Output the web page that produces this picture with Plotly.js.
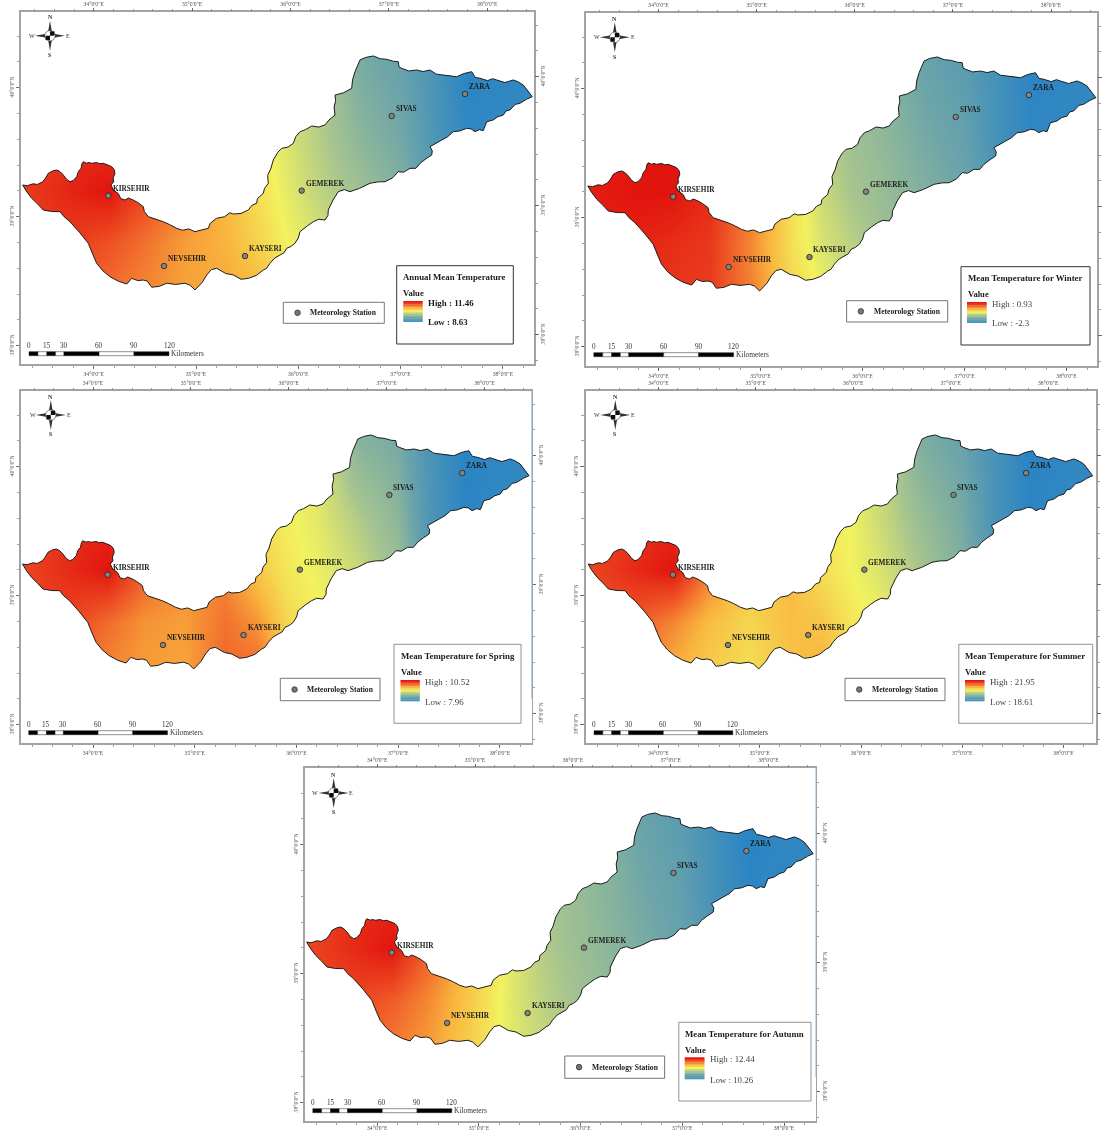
<!DOCTYPE html>
<html>
<head>
<meta charset="utf-8">
<script src="https://cdn.plot.ly/plotly-3.0.1.min.js"></script>
<style>
html,body{margin:0;padding:0;background:#fff}
#chart{width:1102px;height:1131px;filter:blur(0.3px)}
</style>
</head>
<body>
<div id="chart"></div>
<script>
// ---------- DATA ----------
const panelTitles = ["Annual Mean Temperature","Mean Temperature for Winter","Mean Temperature for Spring","Mean Temperature for Summer","Mean Temperature for Autumn"];
const highValues = ["11.46","0.93","10.52","21.95","12.44"];
const lowValues = ["8.63","-2.3","7.96","18.61","10.26"];

const stationNames = ["KIRSEHIR","NEVSEHIR","KAYSERI","GEMEREK","SIVAS","ZARA"];
const stationLon = [34.143,34.687,35.479,36.033,36.913,37.630];
const stationLat = [39.163,38.618,38.695,39.202,39.781,39.951];

const basinLon = [33.306,33.35,33.407,33.45,33.501,33.53,33.556,33.60,33.638,33.67,33.703,33.735,33.768,33.80,33.834,33.85,33.876,33.885,33.898,33.93,33.955,33.98,34.03,34.06,34.094,34.14,34.176,34.20,34.208,34.19,34.195,34.169,34.192,34.24,34.265,34.306,34.34,34.387,34.43,34.485,34.495,34.534,34.60,34.68,34.74,34.811,34.87,34.93,34.99,35.05,35.12,35.14,35.202,35.28,35.33,35.365,35.44,35.511,35.55,35.593,35.60,35.658,35.67,35.707,35.70,35.73,35.756,35.80,35.838,35.90,35.951,35.975,36.017,36.07,36.131,36.20,36.261,36.30,36.359,36.35,36.365,36.359,36.44,36.522,36.53,36.554,36.58,36.603,36.66,36.733,36.80,36.864,36.93,36.977,36.985,37.011,37.08,37.157,37.22,37.287,37.35,37.417,37.48,37.548,37.62,37.695,37.73,37.776,37.85,37.90,37.939,38.02,38.102,38.15,38.199,38.24,38.287,38.23,38.167,38.12,38.069,38.03,38.004,37.95,37.906,37.842,37.808,37.77,37.727,37.69,37.646,37.58,37.515,37.46,37.402,37.35,37.287,37.31,37.304,37.25,37.19,37.15,37.092,37.03,36.977,36.92,36.848,36.78,36.701,36.60,36.505,36.45,36.391,36.34,36.293,36.29,36.261,36.20,36.147,36.09,36.017,36.00,35.968,35.93,35.887,35.86,35.821,35.77,35.723,35.69,35.658,35.59,35.511,35.44,35.365,35.29,35.202,35.15,35.105,35.06,34.99,34.94,34.892,34.80,34.714,34.64,34.567,34.525,34.485,34.43,34.371,34.34,34.323,34.24,34.159,34.09,34.029,33.99,33.947,33.86,33.768,33.71,33.671,33.59,33.507,33.45,33.394,33.34,33.306];
const basinLat = [39.246,39.24,39.255,39.25,39.271,39.30,39.336,39.355,39.362,39.35,39.323,39.29,39.271,39.28,39.310,39.35,39.375,39.41,39.426,39.415,39.42,39.414,39.42,39.41,39.414,39.40,39.388,39.365,39.336,39.30,39.27,39.246,39.207,39.18,39.14,39.129,39.145,39.129,39.11,39.078,39.04,39.00,38.985,38.961,38.94,38.91,38.895,38.905,38.884,38.895,38.91,38.95,38.988,39.0,39.03,39.021,39.025,39.052,39.09,39.104,39.14,39.181,39.22,39.259,39.32,39.37,39.44,39.50,39.53,39.54,39.569,39.62,39.659,39.675,39.703,39.695,39.711,39.75,39.788,39.85,39.90,39.943,39.96,39.995,40.06,40.124,40.17,40.215,40.235,40.246,40.225,40.22,40.205,40.202,40.16,40.15,40.13,40.137,40.125,40.137,40.105,40.098,40.095,40.085,40.11,40.124,40.08,40.073,40.055,40.07,40.06,40.04,40.06,40.045,40.021,39.98,39.93,39.91,39.879,39.87,39.827,39.82,39.788,39.775,39.75,39.736,39.667,39.675,39.659,39.68,39.685,39.665,39.659,39.62,39.595,39.57,39.543,39.51,39.478,39.45,39.414,39.375,39.375,39.345,39.349,39.30,39.271,39.27,39.259,39.22,39.194,39.21,39.194,39.13,39.052,39.01,38.974,38.98,38.961,38.93,38.884,38.835,38.794,38.77,38.755,38.72,38.703,38.68,38.639,38.60,38.587,38.545,38.522,38.515,38.548,38.56,38.60,38.59,38.548,38.49,38.432,38.47,38.484,38.475,38.484,38.46,38.453,38.50,38.509,38.505,38.522,38.49,38.478,38.50,38.535,38.58,38.639,38.71,38.794,38.88,38.961,39.0,39.039,39.04,39.052,39.10,39.143,39.20,39.246];

// position of each grid node on the legend ramp (0 = Low, 1 = High)
const gridLon = [33.3,33.8,34.15,34.5,34.9,35.3,35.6,35.9,36.2,36.6,37.0,37.3,37.65,38.3];
const gridLat = [38.4,38.8,39.2,39.6,40.3];
const annualGrid = [
 [.85,.85,.82,.78,.73,.72,.70,.62,.55,.45,.40,.30,.10,.05],
 [.92,.92,.88,.82,.74,.70,.63,.55,.50,.42,.36,.25,.08,.05],
 [.92,.97,1.0,.90,.80,.68,.60,.52,.45,.38,.30,.18,.04,.04],
 [.90,.95,.95,.88,.75,.65,.58,.50,.43,.33,.26,.14,.02,.03],
 [.90,.95,.95,.88,.75,.65,.58,.50,.42,.27,.21,.12,.00,.03]];
const winterGrid = [
 [.95,.95,.93,.92,.80,.62,.55,.47,.40,.33,.28,.20,.06,.04],
 [.98,.97,.95,.93,.78,.60,.50,.44,.38,.32,.26,.17,.05,.04],
 [.98,1.0,1.0,.95,.82,.60,.47,.40,.36,.30,.24,.14,.03,.03],
 [.98,1.0,1.0,.95,.80,.58,.45,.38,.34,.27,.21,.10,.02,.03],
 [.98,1.0,1.0,.95,.80,.56,.43,.36,.32,.22,.17,.10,.00,.03]];
const springGrid = [
 [.83,.83,.78,.74,.73,.84,.84,.70,.62,.50,.42,.30,.08,.05],
 [.90,.90,.83,.76,.74,.82,.76,.62,.56,.48,.40,.25,.06,.04],
 [.90,.96,1.0,.86,.76,.78,.66,.58,.54,.47,.37,.18,.03,.03],
 [.90,.95,.96,.85,.75,.72,.62,.56,.52,.42,.33,.13,.01,.03],
 [.90,.95,.95,.85,.74,.70,.60,.54,.50,.30,.26,.12,.00,.03]];
const summerGrid = [
 [.80,.78,.70,.64,.60,.66,.72,.64,.56,.45,.38,.28,.08,.05],
 [.88,.86,.78,.68,.62,.68,.66,.58,.54,.43,.35,.23,.06,.04],
 [.90,.96,1.0,.80,.65,.68,.60,.55,.50,.40,.30,.16,.03,.03],
 [.90,.94,.95,.78,.65,.64,.58,.55,.47,.36,.27,.12,.01,.03],
 [.90,.94,.95,.78,.64,.62,.56,.53,.45,.28,.22,.11,.00,.03]];
const autumnGrid = [
 [.83,.83,.80,.74,.64,.52,.47,.42,.37,.31,.26,.18,.06,.04],
 [.90,.90,.86,.78,.65,.52,.45,.40,.36,.30,.25,.16,.05,.04],
 [.90,.96,1.0,.85,.68,.53,.43,.38,.34,.28,.22,.13,.03,.03],
 [.90,.95,.95,.83,.66,.52,.42,.37,.33,.26,.20,.10,.01,.03],
 [.90,.95,.95,.82,.66,.50,.41,.36,.32,.22,.17,.09,.00,.03]];
const grids = [annualGrid,winterGrid,springGrid,summerGrid,autumnGrid];

const lonTicks = [34,35,36,37,38];
const lonTickText = ["34°0'0\"E","35°0'0\"E","36°0'0\"E","37°0'0\"E","38°0'0\"E"];
const latTicks = [38,39,40];
const latTickText = ["38°0'0\"N","39°0'0\"N","40°0'0\"N"];
const scaleLabels = ["0","15","30","60","90","120"];

// ---------- STYLE & LAYOUT GEOMETRY (image pixels) ----------
const colorStops = [[0,"#2a84c4"],[.25,"#6fa6a8"],[.4,"#a6c48f"],[.55,"#f2f25f"],[.7,"#f9b53e"],[.85,"#f0602a"],[1,"#e2140e"]];
const rampStrips = ["#e2140e","#e93a1c","#f0602a","#f58a34","#f9b53e","#f6d44e","#f2f25f","#cddb76","#a6c48f","#8ab59b","#6fa6a8","#5a9db0","#4494ba"];
const geo = [
 {L:21,R:534,T:12,B:364,x34:93.7,sx:102.3,y40:87.7,leg:[396.7,513.3,265.7,344],st:[283.3,384.3,302.3,323.3],bar:[29,169,351.7],ramp:[403.3,422.7,301,321.7],arrow:[50,35.7],bold:true,rightLabels:true,bottomGap:0},
 {L:586,R:1097,T:13,B:366,x34:658.6,sx:102,y40:88.7,leg:[961,1090,266.7,345],st:[846.6,947.7,300.7,322],bar:[593.8,733.6,352.7],ramp:[967,986.7,302,322.7],arrow:[614.8,37.3],bold:false,rightLabels:false,bottomGap:0},
 {L:21,R:531.5,T:391,B:743,x34:93.1,sx:101.7,y40:466.7,leg:[394,521,644.3,723.3],st:[280.3,380,678.3,700.7],bar:[28.7,167.5,730.7],ramp:[400.5,419.8,680,701],arrow:[50.8,415],bold:false,rightLabels:true,bottomGap:0},
 {L:585.5,R:1096,T:391,B:743,x34:658.4,sx:101.3,y40:466.7,leg:[958.8,1092.7,644.3,723.3],st:[845,945,678.3,700.7],bar:[594,732.8,730.7],ramp:[965,984.5,680,701],arrow:[615.3,415],bold:false,rightLabels:false,bottomGap:0},
 {L:305,R:815.8,T:768,B:1121,x34:377.2,sx:101.7,y40:844.7,leg:[678.8,811,1022.3,1101],st:[564.8,664.6,1056,1078.3],bar:[312.8,451.8,1108.7],ramp:[684.7,704.5,1057.3,1079],arrow:[333.7,793],bold:false,rightLabels:true,bottomGap:-3}
];
const sy = 129, W = 1102, H = 1131;
const SERIF = "'Liberation Serif','Times New Roman',serif";
const PX = p => p/W, PY = p => 1-p/H;

const traces = [], shapes = [], annotations = [];
const layout = {width:W,height:H,margin:{l:0,r:0,t:0,b:0},paper_bgcolor:"#fff",plot_bgcolor:"#fff",showlegend:false,shapes,annotations};

function text(x,y,t,size,opts){
  annotations.push(Object.assign({xref:"paper",yref:"paper",x:PX(x),y:PY(y),text:t,showarrow:false,xanchor:"left",yanchor:"middle",borderpad:0,
    font:{family:SERIF,size:size,color:(opts&&opts.color)||"#1a1a1a"}},opts&&opts.anchor?{xanchor:opts.anchor}:{}));
}
function rect(x0,x1,y0,y1,fill,line,lw){
  shapes.push({type:"rect",xref:"paper",yref:"paper",x0:PX(x0),x1:PX(x1),y0:PY(y0),y1:PY(y1),fillcolor:fill,line:{color:line||fill,width:lw===undefined?0:lw}});
}
function poly(pts,fill){
  const d = pts.map((p,i)=>(i?"L":"M")+PX(p[0]).toFixed(5)+","+PY(p[1]).toFixed(5)).join(" ")+" Z";
  shapes.push({type:"path",xref:"paper",yref:"paper",path:d,fillcolor:fill,line:{width:0}});
}
function compass(cx,cy){
  const t=15,e=2.2;
  poly([[cx,cy-t],[cx+e,cy-e],[cx+t,cy],[cx+e,cy+e],[cx,cy+t],[cx-e,cy+e],[cx-t,cy],[cx-e,cy-e]],"#333");
  shapes.push({type:"circle",xref:"paper",yref:"paper",x0:PX(cx-5.2),x1:PX(cx+5.2),y0:PY(cy-5.2),y1:PY(cy+5.2),fillcolor:"#fff",line:{color:"#333",width:.6}});
  rect(cx,cx+4.4,cy-4.4,cy,"#0c0c0c");
  rect(cx-4.4,cx,cy,cy+4.4,"#0c0c0c");
  text(cx,cy-18.4,"<b>N</b>",6,{anchor:"center",color:"#333"});
  text(cx,cy+19.3,"<b>S</b>",6,{anchor:"center",color:"#333"});
  text(cx-18.3,cy,"W",6,{anchor:"center",color:"#333"});
  text(cx+17.7,cy,"E",6,{anchor:"center",color:"#333"});
}

const maskLonOuter = g => [g.xr[0],g.xr[0],g.xr[1],g.xr[1],g.xr[0]];
const maskLatOuter = g => [g.yr[0],g.yr[1],g.yr[1],g.yr[0],g.yr[0]];

geo.forEach((g,i)=>{
  const n = 2*i+1, m = n+1;
  const xn = n===1?"x":"x"+n, yn = n===1?"y":"y"+n, xm="x"+m, ym="y"+m;
  const xk = n===1?"xaxis":"xaxis"+n, yk = n===1?"yaxis":"yaxis"+n;
  g.xr = [34-(g.x34-g.L)/g.sx, 34+(g.R-g.x34)/g.sx];
  g.yr = [40-(g.B-g.y40)/sy, 40+(g.y40-g.T)/sy];
  const sxTop = g.sx*0.962, y40r = g.y40-11;
  const xrTop = [34-(g.x34-g.L)/sxTop, 34+(g.R-g.x34)/sxTop];
  const yrRight = [40-(g.B-y40r)/sy, 40+(y40r-g.T)/sy];
  const dx = [g.L/W,g.R/W], dy = [1-g.B/H,1-g.T/H];
  const tf = {family:SERIF,size:5.7,color:"#555"};
  const minor = {tickmode:"linear",tick0:0,dtick:.2,ticks:"outside",ticklen:2.5,tickwidth:.7,tickcolor:"#777"};
  const common = {showgrid:false,zeroline:false,ticks:"outside",ticklen:3.5,tickwidth:.8,tickcolor:"#555",tickfont:tf,fixedrange:true,minor};
  layout[xk] = Object.assign({},common,{domain:dx,range:g.xr,anchor:yn,side:"bottom",tickmode:"array",tickvals:lonTicks,ticktext:lonTickText,showline:true,mirror:true,linecolor:"#a3a3a3",linewidth:1.6,tickangle:0,ticklabelstandoff:g.bottomGap});
  layout[yk] = Object.assign({},common,{domain:dy,range:g.yr,anchor:xn,side:"left",tickmode:"array",tickvals:latTicks,ticktext:latTickText,showline:true,mirror:true,linecolor:"#a3a3a3",linewidth:1.6,tickangle:-90});
  layout["xaxis"+m] = Object.assign({},common,{domain:dx,range:xrTop,anchor:yn,overlaying:xn,side:"top",tickmode:"array",tickvals:lonTicks,ticktext:lonTickText,showline:false,tickangle:0,ticklabelstandoff:-1});
  layout["yaxis"+m] = Object.assign({},common,{domain:dy,range:yrRight,anchor:xn,overlaying:yn,side:"right",tickmode:"array",tickvals:latTicks,ticktext:latTickText,showline:false,tickangle:-90,showticklabels:g.rightLabels});

  traces.push({type:"scatter",x:[],y:[],xaxis:xm,yaxis:ym,hoverinfo:"skip",mode:"markers"});
  traces.push({type:"heatmap",x:gridLon,y:gridLat,z:grids[i],zmin:0,zmax:1,colorscale:colorStops,zsmooth:"best",showscale:false,hoverinfo:"skip",xaxis:xn,yaxis:yn});
  traces.push({type:"scatter",mode:"none",fill:"toself",fillcolor:"#fff",hoverinfo:"skip",xaxis:xn,yaxis:yn,
    x:maskLonOuter(g).reverse().concat([null]).concat(basinLon),
    y:maskLatOuter(g).reverse().concat([null]).concat(basinLat)});
  traces.push({type:"scatter",mode:"lines",x:basinLon,y:basinLat,line:{color:"#1c1c1c",width:1},hoverinfo:"skip",xaxis:xn,yaxis:yn});
  traces.push({type:"scatter",mode:"markers",x:stationLon,y:stationLat,marker:{size:5.5,color:"#85857c",line:{color:"#2a2a2a",width:.9}},hoverinfo:"skip",xaxis:xn,yaxis:yn});

  stationNames.forEach((name,k)=>{
    annotations.push({xref:xn,yref:yn,x:stationLon[k],y:stationLat[k],text:"<b>"+name+"</b>",showarrow:false,xanchor:"left",yanchor:"middle",
      xshift:name==="KIRSEHIR"?3:2,yshift:7.5,font:{family:SERIF,size:7.3,color:"#1c1c1c"}});
  });

  // legend box
  rect(g.leg[0],g.leg[1],g.leg[2],g.leg[3],"rgba(255,255,255,0)",i<2?"#333":"#777",i<2?1:.8);
  text(g.leg[0]+5.5,g.leg[2]+11.3,"<b>"+panelTitles[i]+"</b>",8.8);
  text(g.leg[0]+5.5,g.leg[2]+27.5,"<b>Value</b>",8.6);
  const stripH = (g.ramp[3]-g.ramp[2])/rampStrips.length;
  rampStrips.forEach((c,k)=>rect(g.ramp[0],g.ramp[1],g.ramp[2]+k*stripH,g.ramp[2]+(k+1)*stripH+.3,c));
  const hi = "High : "+highValues[i], lo = "Low : "+lowValues[i];
  text(g.ramp[1]+4.5,g.ramp[2]+1.5,g.bold?"<b>"+hi+"</b>":hi,8.9,{color:g.bold?"#1a1a1a":"#444"});
  text(g.ramp[1]+4.5,g.ramp[3]+.5,g.bold?"<b>"+lo+"</b>":lo,8.9,{color:g.bold?"#1a1a1a":"#444"});

  // station key
  rect(g.st[0],g.st[1],g.st[2],g.st[3],"rgba(255,255,255,0)","#666",.9);
  const cy = (g.st[2]+g.st[3])/2;
  shapes.push({type:"circle",xref:"paper",yref:"paper",x0:PX(g.st[0]+11.5),x1:PX(g.st[0]+17),y0:PY(cy-2.8),y1:PY(cy+2.8),fillcolor:"#777",line:{color:"#333",width:.8}});
  text(g.st[0]+26,cy,"<b>Meteorology Station</b>",7.6);

  // scale bar
  const x0=g.bar[0], bw=g.bar[1]-g.bar[0], y0=g.bar[2];
  [[0,.064,"#000"],[.064,.128,"#fff"],[.128,.19,"#000"],[.19,.25,"#fff"],[.25,.5,"#000"],[.5,.75,"#fff"],[.75,1,"#000"]].forEach(s=>
    rect(x0+s[0]*bw,x0+s[1]*bw,y0,y0+4,s[2],"#222",.5));
  [0,.128,.25,.5,.75,1].forEach((f,k)=>text(x0+f*bw,y0-6,scaleLabels[k],7.2,{anchor:"center",color:"#333"}));
  text(g.bar[1]+1,y0+1.6,"Kilometers",7.4,{color:"#333"});

  compass(g.arrow[0],g.arrow[1]);
});

Plotly.newPlot("chart",traces,layout,{staticPlot:true,displayModeBar:false});
</script>
</body>
</html>
